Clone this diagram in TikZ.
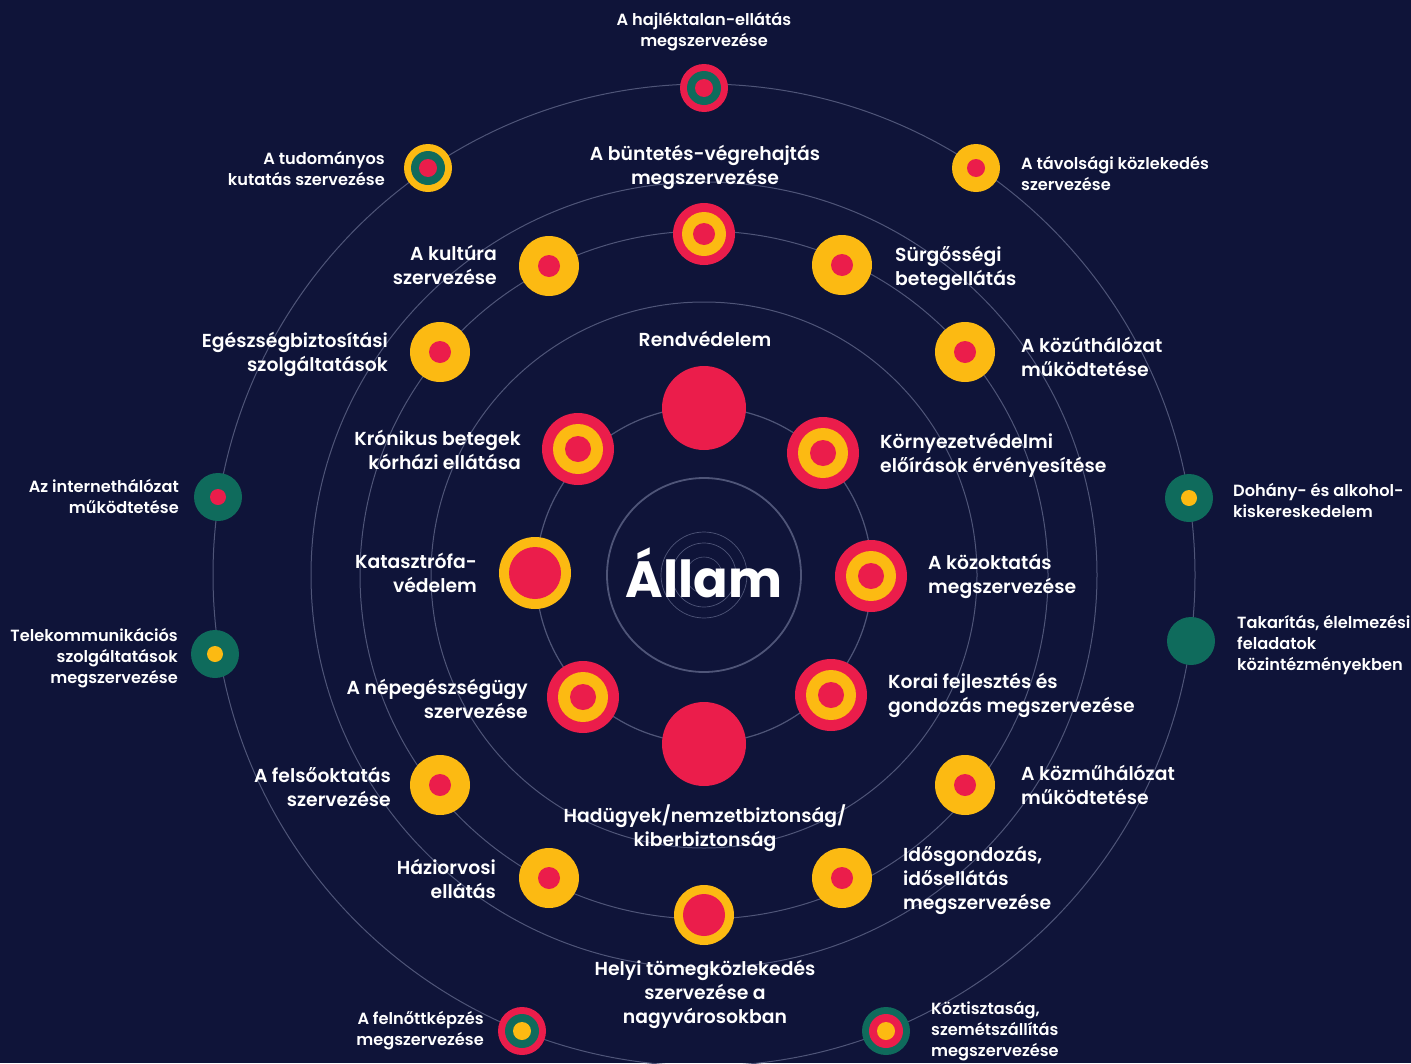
\documentclass[tikz,border=0pt]{standalone}
\usepackage{fontspec}
\setmainfont{Poppins SemiBold}[BoldFont={Poppins Bold}]
\definecolor{bgc}{HTML}{0F1439}
\definecolor{rd}{HTML}{EB1D4B}
\definecolor{yl}{HTML}{FCBA12}
\definecolor{gr}{HTML}{0F6B5C}
\definecolor{ringc}{HTML}{4F5578}
\tikzset{
  ring/.style={draw=ringc, line width=1pt},
  dot/.style={circle, inner sep=0pt, draw=none},
  lblR/.style={anchor=east, align=right, inner sep=0pt, text=white, font=\fontsize{16.2}{21}\selectfont},
  lblL/.style={anchor=west, align=left, inner sep=0pt, text=white, font=\fontsize{16.2}{21}\selectfont},
  lblC/.style={anchor=center, align=center, inner sep=0pt, text=white, font=\fontsize{16.2}{21}\selectfont},
  big/.style={font=\fontsize{18.8}{24}\selectfont}
}
\begin{document}
\begin{tikzpicture}[x=1pt,y=-1pt]
\fill[bgc] (0,0) rectangle (1411,1063);
\useasboundingbox (0,0) rectangle (1411,1063);
\coordinate (c) at (704,575);
% rings
\draw[ring, line width=1.8pt] (c) circle[radius=97];
\draw[ring, line width=0.7pt] (c) circle[radius=43];
\draw[ring, line width=0.7pt] (c) circle[radius=32];
\draw[ring, line width=0.6pt] (c) circle[radius=18];
\draw[ring, line width=1.2pt] (c) circle[radius=168];
\draw[ring] (c) circle[radius=273];
\draw[ring] (c) circle[radius=344];
\draw[ring] (c) circle[radius=393];
\draw[ring] (c) circle[radius=491];

% centre text
\node[text=white, font=\fontsize{51}{56}\selectfont\bfseries, inner sep=0pt] (allam) at (704,573) {Állam};

% ---- inner ring (r=168)
\node[dot, fill=rd, minimum size=84] (rend) at (704,408) {};
\node[dot, fill=rd, minimum size=84] (had) at (704,744) {};

\node[dot, fill=rd, minimum size=72] (kron) at (578,449) {};
\node[dot, fill=yl, minimum size=50] at (kron) {};
\node[dot, fill=rd, minimum size=26] at (kron) {};

\node[dot, fill=rd, minimum size=72] (korny) at (823,453) {};
\node[dot, fill=yl, minimum size=50] at (korny) {};
\node[dot, fill=rd, minimum size=26] at (korny) {};

\node[dot, fill=yl, minimum size=72] (kat) at (535,573) {};
\node[dot, fill=rd, minimum size=52] at (kat) {};

\node[dot, fill=rd, minimum size=72] (kozokt) at (871,576) {};
\node[dot, fill=yl, minimum size=50] at (kozokt) {};
\node[dot, fill=rd, minimum size=26] at (kozokt) {};

\node[dot, fill=rd, minimum size=72] (nep) at (583,697) {};
\node[dot, fill=yl, minimum size=50] at (nep) {};
\node[dot, fill=rd, minimum size=26] at (nep) {};

\node[dot, fill=rd, minimum size=72] (korai) at (831,695) {};
\node[dot, fill=yl, minimum size=50] at (korai) {};
\node[dot, fill=rd, minimum size=26] at (korai) {};

% ---- middle ring (r=344)
\node[dot, fill=rd, minimum size=62] (bunt) at (704,234) {};
\node[dot, fill=yl, minimum size=44] at (bunt) {};
\node[dot, fill=rd, minimum size=22] at (bunt) {};

\node[dot, fill=yl, minimum size=60] (kult) at (549,266) {};
\node[dot, fill=rd, minimum size=22] at (kult) {};
\node[dot, fill=yl, minimum size=60] (surg) at (842,265) {};
\node[dot, fill=rd, minimum size=22] at (surg) {};
\node[dot, fill=yl, minimum size=60] (egesz) at (440,352) {};
\node[dot, fill=rd, minimum size=22] at (egesz) {};
\node[dot, fill=yl, minimum size=60] (kozut) at (965,352) {};
\node[dot, fill=rd, minimum size=22] at (kozut) {};
\node[dot, fill=yl, minimum size=60] (felso) at (440,785) {};
\node[dot, fill=rd, minimum size=22] at (felso) {};
\node[dot, fill=yl, minimum size=60] (kozmu) at (965,785) {};
\node[dot, fill=rd, minimum size=22] at (kozmu) {};
\node[dot, fill=yl, minimum size=60] (hazi) at (549,878) {};
\node[dot, fill=rd, minimum size=22] at (hazi) {};
\node[dot, fill=yl, minimum size=60] (idos) at (842,878) {};
\node[dot, fill=rd, minimum size=22] at (idos) {};
\node[dot, fill=yl, minimum size=60] (helyi) at (704,915) {};
\node[dot, fill=rd, minimum size=42] at (helyi) {};

% ---- outer ring (r=491)
\node[dot, fill=rd, minimum size=48] (hajl) at (704,88) {};
\node[dot, fill=gr, minimum size=34] at (hajl) {};
\node[dot, fill=rd, minimum size=18] at (hajl) {};

\node[dot, fill=yl, minimum size=48] (tud) at (428,168) {};
\node[dot, fill=gr, minimum size=34] at (tud) {};
\node[dot, fill=rd, minimum size=18] at (tud) {};

\node[dot, fill=yl, minimum size=48] (tav) at (976,168) {};
\node[dot, fill=rd, minimum size=18] at (tav) {};

\node[dot, fill=gr, minimum size=48] (inet) at (218,497) {};
\node[dot, fill=rd, minimum size=16] at (inet) {};

\node[dot, fill=gr, minimum size=48] (tele) at (215,654) {};
\node[dot, fill=yl, minimum size=16] at (tele) {};

\node[dot, fill=gr, minimum size=48] (dohany) at (1189,498) {};
\node[dot, fill=yl, minimum size=16] at (dohany) {};

\node[dot, fill=gr, minimum size=48] (takar) at (1191,641) {};

\node[dot, fill=rd, minimum size=48] (felnott) at (522,1031) {};
\node[dot, fill=gr, minimum size=34] at (felnott) {};
\node[dot, fill=yl, minimum size=18] at (felnott) {};

\node[dot, fill=gr, minimum size=48] (koztiszt) at (886,1031) {};
\node[dot, fill=rd, minimum size=34] at (koztiszt) {};
\node[dot, fill=yl, minimum size=18] at (koztiszt) {};

% ---- labels
\node[lblC] (t-hajl) at (704,32) {A hajléktalan-ellátás\\megszervezése};
\node[lblC, big] (t-bunt) at (705,167) {A büntetés-végrehajtás\\megszervezése};
\node[lblR] (t-tud) at (385,168) {A tudományos\\kutatás szervezése};
\node[lblL] (t-tav) at (1021,173) {A távolsági közlekedés\\szervezése};
\node[lblR, big] (t-kult) at (497,265) {A kultúra\\szervezése};
\node[lblL, big] (t-surg) at (895,268) {Sürgősségi\\betegellátás};
\node[lblR, big] (t-egesz) at (388,354) {Egészségbiztosítási\\szolgáltatások};
\node[lblL, big] (t-kozut) at (1021,357) {A közúthálózat\\működtetése};
\node[lblC, big] (t-rend) at (705,339) {Rendvédelem};
\node[lblR, big] (t-kron) at (521,450) {Krónikus betegek\\kórházi ellátása};
\node[lblL, big] (t-korny) at (880,455) {Környezetvédelmi\\előírások érvényesítése};
\node[lblR] (t-inet) at (179,496) {Az internethálózat\\működtetése};
\node[lblL] (t-dohany) at (1233,500) {Dohány- és alkohol-\\kiskereskedelem};
\node[lblR, big] (t-kat) at (477,573) {Katasztrófa-\\védelem};
\node[lblL, big] (t-kozokt) at (928,576) {A közoktatás\\megszervezése};
\node[lblR] (t-tele) at (178,658) {Telekommunikációs\\szolgáltatások\\megszervezése};
\node[lblL] (t-takar) at (1237,645) {Takarítás, élelmezési\\feladatok\\közintézményekben};
\node[lblR, big] (t-nep) at (528,699) {A népegészségügy\\szervezése};
\node[lblL, big] (t-korai) at (888,695) {Korai fejlesztés és\\gondozás megszervezése};
\node[lblR, big] (t-felso) at (391,787) {A felsőoktatás\\szervezése};
\node[lblL, big] (t-kozmu) at (1021,785) {A közműhálózat\\működtetése};
\node[lblC, big] (t-had) at (705,828) {Hadügyek/nemzetbiztonság/\\kiberbiztonság};
\node[lblR, big] (t-hazi) at (496,879) {Háziorvosi\\ellátás};
\node[lblL, big] (t-idos) at (903,880) {Idősgondozás,\\idősellátás\\megszervezése};
\node[lblC, big] (t-helyi) at (705,994) {Helyi tömegközlekedés\\szervezése a\\nagyvárosokban};
\node[lblR] (t-felnott) at (484,1031) {A felnőttképzés\\megszervezése};
\node[lblL] (t-koztiszt) at (931,1031) {Köztisztaság,\\szemétszállítás\\megszervezése};
\end{tikzpicture}
\end{document}
